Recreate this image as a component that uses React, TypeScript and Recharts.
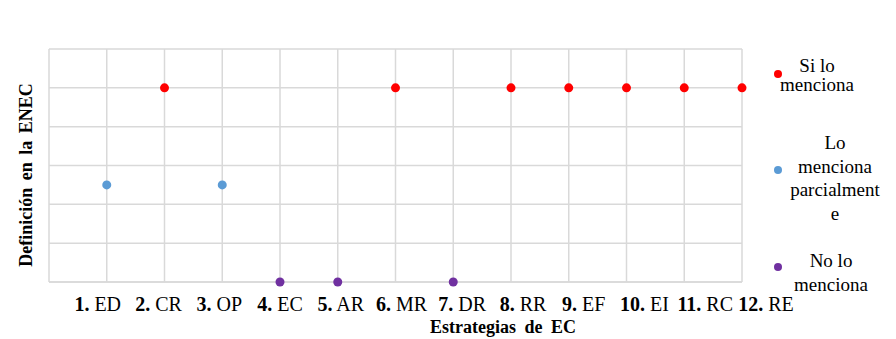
import {
  ScatterChart,
  Scatter,
  XAxis,
  YAxis,
  CartesianGrid,
  Legend,
} from 'recharts';

// estrategias de EC (eje X)
const categories = ['ED', 'CR', 'OP', 'EC', 'AR', 'MR', 'DR', 'RR', 'EF', 'EI', 'RC', 'RE'];
// nivel de definición en la ENEC por estrategia
const definicion = [2.5, 5, 2.5, 0, 0, 5, 0, 5, 5, 5, 5, 5];

const seriesNames = ['Si lo menciona', 'Lo menciona parcialmente', 'No lo menciona'];
const seriesLevels = [5, 2.5, 0];
const seriesColors = ['#ff0000', '#5b9bd5', '#7030a0'];
const legendLines = [
  ['Si lo', 'menciona'],
  ['Lo', 'menciona', 'parcialment', 'e'],
  ['No lo', 'menciona'],
];

const xTicks = [0, 1, 2, 3, 4, 5, 6, 7, 8, 9, 10, 11, 12];
const yTicks = [0, 1, 2, 3, 4, 5, 6];

const FONT = 'Liberation Serif, Times New Roman, serif';

const series = seriesNames.map((name, i) => ({
  name,
  color: seriesColors[i],
  data: definicion
    .map((v, idx) => ({x: idx + 1, y: v}))
    .filter((p) => p.y === seriesLevels[i]),
}));

const CategoryTick = (props: any) => {
  const {x, payload} = props;
  const v = payload.value;
  if (v === 0) return <g/>;
  // las etiquetas del original están algo más espaciadas que la rejilla
  const dx = (v - 4) * 3;
  return (
    <text x={x + dx} y={311} textAnchor="middle" fontFamily={FONT} fontSize={20} fill="#000">
      <tspan fontWeight="bold">{`${v}.`}</tspan>
      <tspan>{` ${categories[v - 1]}`}</tspan>
    </text>
  );
};

const EmptyTick = () => <g/>;

const yLabel = () => (
  <text
    x={26}
    y={175}
    transform="rotate(-90 26 175)"
    textAnchor="middle"
    dominantBaseline="central"
    fontFamily={FONT}
    fontSize={18}
    fontWeight="bold"
    wordSpacing={3}
    fill="#000"
  >
    Definición en la ENEC
  </text>
);

const xLabel = () => (
  <text
    x={503}
    y={333}
    textAnchor="middle"
    fontFamily={FONT}
    fontSize={18}
    fontWeight="bold"
    wordSpacing={4}
    fill="#000"
  >
    Estrategias de EC
  </text>
);

// posiciones de cada bloque de la leyenda
const legendBlocks = [
  {top: 56, left: 779, width: 76, lineHeight: 19, dotTop: 74},
  {top: 131, left: 786, width: 98, lineHeight: 23.5, dotTop: 170},
  {top: 249, left: 791, width: 80, lineHeight: 24, dotTop: 267},
];

const renderLegend = () => (
  <div style={{position: 'relative', width: 896, height: 339, fontFamily: FONT, fontSize: 19, color: '#000'}}>
    {series.map((s, i) => {
      const b = legendBlocks[i];
      return (
        <div key={s.name}>
          <div
            style={{
              position: 'absolute',
              left: 774,
              top: b.dotTop - 4,
              width: 8,
              height: 8,
              borderRadius: 4,
              background: s.color,
            }}
          />
          <div
            style={{
              position: 'absolute',
              left: b.left,
              top: b.top,
              width: b.width,
              textAlign: 'center',
              lineHeight: `${b.lineHeight}px`,
              whiteSpace: 'nowrap',
            }}
          >
            {legendLines[i].map((l) => (
              <div key={l}>{l}</div>
            ))}
          </div>
        </div>
      );
    })}
  </div>
);

const App = () => {
  return (
    <div style={{position: 'absolute', left: 0, top: 0, width: 896, height: 339, background: '#fff'}}>
      <ScatterChart width={896} height={339} margin={{top: 49, right: 154, bottom: 0, left: 0}}>
        <CartesianGrid stroke="#d9d9d9" strokeWidth={1.5}/>
        <XAxis
          type="number"
          dataKey="x"
          domain={[0, 12]}
          ticks={xTicks}
          interval={0}
          height={57}
          tickLine={false}
          axisLine={{stroke: '#d9d9d9', strokeWidth: 1.5}}
          tick={<CategoryTick/>}
          label={xLabel}
        />
        <YAxis
          type="number"
          dataKey="y"
          domain={[0, 6]}
          ticks={yTicks}
          interval={0}
          width={49}
          tick={<EmptyTick/>}
          tickLine={false}
          axisLine={false}
          label={yLabel}
        />
        <Legend
          layout="vertical"
          align="center"
          verticalAlign="middle"
          content={renderLegend}
          wrapperStyle={{left: 0, top: 0, width: 896, height: 339, pointerEvents: 'none'}}
        />
        {series.map((s) => (
          <Scatter
            key={s.name}
            name={s.name}
            data={s.data}
            fill={s.color}
            isAnimationActive={false}
            shape={(p: any) => <circle cx={p.cx} cy={p.cy} r={4.5} fill={s.color}/>}
          />
        ))}
      </ScatterChart>
    </div>
  );
};

export default App;
